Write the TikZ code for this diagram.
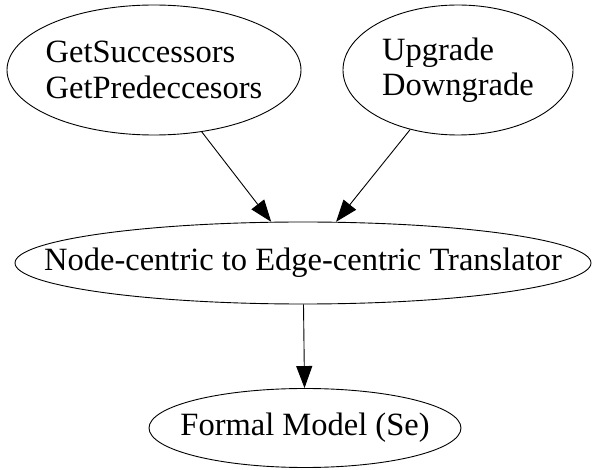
\documentclass[tikz,border=0pt]{standalone}
\usepackage{fontspec}
\setmainfont{Liberation Serif}
\usetikzlibrary{shapes.geometric, arrows.meta, positioning}

\tikzset{
  blob/.style={draw, ellipse, line width=0.9pt, inner sep=0pt},
  caption/.style={font=\fontsize{32.5}{35.5}\selectfont, align=left, inner sep=0pt},
  flow/.style={-{Triangle[length=22pt,width=16pt]}, line width=0.9pt}
}

\begin{document}
\begin{tikzpicture}[x=1pt,y=1pt]
  \useasboundingbox (0,0) rectangle (592,-470);

  % Operations on top
  \node[blob, minimum width=294pt, minimum height=130pt,
        label={[caption]center:GetSuccessors\\GetPredeccesors}] (succ) at (154,-70) {};
  \node[blob, minimum width=230pt, minimum height=130pt,
        label={[caption]center:Upgrade\\Downgrade}] (grade) at (458,-70) {};

  % Translator
  \node[blob, minimum width=576pt, minimum height=82pt,
        label={[caption]center:Node-centric to Edge-centric Translator}] (trans) at (303,-263) {};

  % Model
  \node[blob, minimum width=312pt, minimum height=79pt,
        label={[caption]center:Formal Model (Se)}] (model) at (305,-428) {};

  % Edges
  \draw[flow] (succ) -- (trans);
  \draw[flow] (grade) -- (trans);
  \draw[flow] (trans) -- (model);
\end{tikzpicture}
\end{document}
